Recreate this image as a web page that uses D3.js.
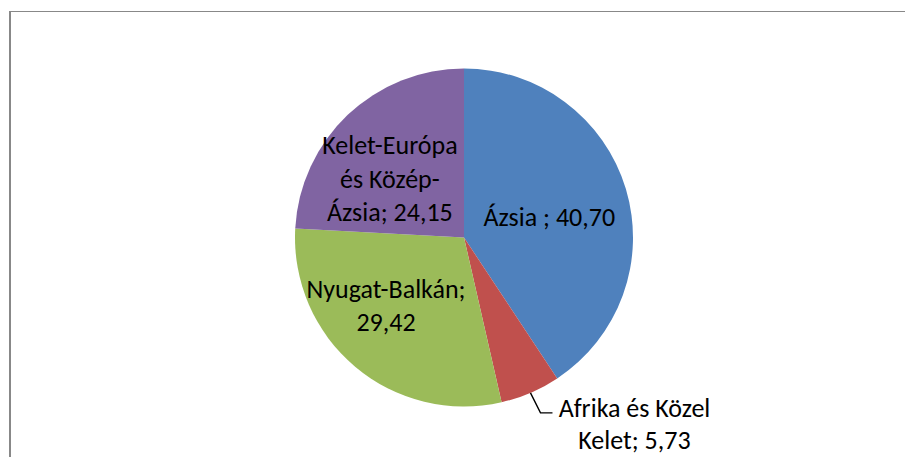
<!DOCTYPE html>
<html>
<head>
<meta charset="utf-8">
<script src="https://cdn.jsdelivr.net/npm/d3@7"></script>
<style>
  body { margin: 0; background: #fff; }
  .label { font-family: Carlito, Calibri, Lato, sans-serif; font-size: 26px; fill: #000; }
</style>
</head>
<body>
<div id="chart"></div>
<script>
// regions and their shares (%)
const categories = ["Ázsia", "Afrika és Közel Kelet", "Nyugat-Balkán", "Kelet-Európa és Közép-Ázsia"];
const values = [40.70, 5.73, 29.42, 24.15];
// label text as printed on the chart, split into lines
const labelLines = [
    ["Ázsia ; 40,70"],
    ["Afrika és Közel", "Kelet; 5,73"],
    ["Nyugat-Balkán;", "29,42"],
    ["Kelet-Európa", "és Közép-", "Ázsia; 24,15"]
];
const colors = ["#4f81bd", "#c0504d", "#9bbb59", "#8064a2"];

const width = 905, height = 457;
const cx = 464, cy = 237.5, radius = 169;
const lineHeight = 33.5;

const svg = d3.select("#chart").append("svg")
    .attr("width", width)
    .attr("height", height);

// chart frame (only top and left edges are visible in the crop)
svg.append("line")
    .attr("x1", 9).attr("x2", width).attr("y1", 11.5).attr("y2", 11.5)
    .attr("stroke", "#888").attr("stroke-width", 1);
svg.append("line")
    .attr("x1", 10).attr("x2", 10).attr("y1", 11).attr("y2", height)
    .attr("stroke", "#888").attr("stroke-width", 2);

const data = categories.map((c, i) => ({ name: c, value: values[i], lines: labelLines[i], color: colors[i] }));

const pie = d3.pie().sort(null).value(d => d.value);
const arc = d3.arc().innerRadius(0).outerRadius(radius);
const labelArc = d3.arc().innerRadius(radius * 0.62).outerRadius(radius * 0.62);

const arcs = pie(data);

const g = svg.append("g").attr("transform", `translate(${cx},${cy})`);

g.selectAll("path.slice")
    .data(arcs)
    .enter().append("path")
    .attr("class", "slice")
    .attr("d", arc)
    .attr("fill", d => d.data.color);

// manual nudges so labels sit where Excel put them
const nudge = {
    "Ázsia": [-15, 9.5],
    "Nyugat-Balkán": [-10.5, -12],
    "Kelet-Európa és Közép-Ázsia": [-2, 17]
};

arcs.forEach(d => {
    const name = d.data.name;
    const n = d.data.lines.length;
    let x, y;
    if (nudge[name]) {
        const c = labelArc.centroid(d);
        x = c[0] + nudge[name][0];
        y = c[1] + nudge[name][1];
    } else {
        // small slice: label outside with leader line
        const mid = (d.startAngle + d.endAngle) / 2;
        const p0 = [Math.sin(mid) * radius, -Math.cos(mid) * radius];
        const p1 = [p0[0] + 10, p0[1] + 20];
        const p2 = [p1[0] + 12, p1[1]];
        g.append("polyline")
            .attr("points", [p0, p1, p2].map(p => p.join(",")).join(" "))
            .attr("fill", "none")
            .attr("stroke", "#000")
            .attr("stroke-width", 1.4);
        x = p2[0] + 82;
        y = p2[1] + 11;
    }
    const lh = n === 2 && !nudge[name] ? 32 : lineHeight;
    const text = g.append("text")
        .attr("class", "label")
        .attr("text-anchor", "middle")
        .attr("x", x)
        .attr("y", y - (n - 1) * lh / 2);
    d.data.lines.forEach((line, i) => {
        text.append("tspan")
            .attr("x", x)
            .attr("dy", i === 0 ? "0.35em" : lh)
            .text(line);
    });
});
</script>
</body>
</html>
